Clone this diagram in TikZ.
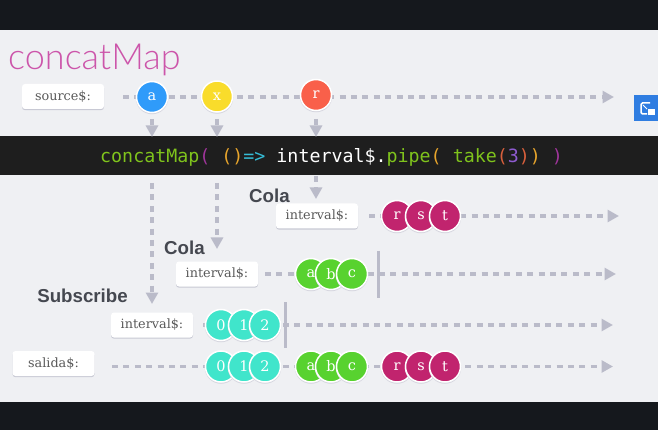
\documentclass[tikz,border=0pt]{standalone}
\usepackage{fontspec}
\setmainfont{Liberation Sans}
\newfontfamily\titlefont{Lato Light}
\newfontfamily\slabfont{DejaVu Serif}
\newfontfamily\codefont{DejaVu Sans Mono}
\usetikzlibrary{arrows.meta}
\definecolor{pagebg}{HTML}{EFF0F3}
\definecolor{darkbar}{HTML}{15181D}
\definecolor{codebg}{HTML}{1E1E1E}
\definecolor{flowc}{HTML}{BABBC9}
\definecolor{cgreen}{HTML}{7FC31C}
\definecolor{cpurple}{HTML}{A0359B}
\definecolor{corange}{HTML}{E8A52C}
\definecolor{ccyan}{HTML}{35BCD6}
\definecolor{cred}{HTML}{D9603C}
\definecolor{cviolet}{HTML}{8E5BD0}
\definecolor{titlec}{HTML}{CC55AA}
\definecolor{headc}{HTML}{454850}
\definecolor{xazure}{HTML}{2F9BFA}
\definecolor{xyellow}{HTML}{F9DC2B}
\definecolor{xred}{HTML}{F9604A}
\definecolor{xpink}{HTML}{C1246E}
\definecolor{xgreen}{HTML}{58D22F}
\definecolor{xteal}{HTML}{40E5CB}
\definecolor{xblue}{HTML}{2F7DE1}
\tikzset{
  flow/.style={draw=flowc,line width=3.6pt,dash pattern=on 6pt off 5.4pt},
  flowarrow/.style={flow,-{Triangle[length=11.5pt,width=12pt]}},
  label box/.style={rectangle,rounded corners=3pt,fill=white,minimum width=82pt,minimum height=25pt,
    inner sep=0pt,outer sep=0pt,text=black!65,font=\slabfont\fontsize{12.8}{14}\selectfont,
    preaction={fill=flowc!80,transform canvas={yshift=-1.2pt}}},
  marble/.style={circle,draw=white,line width=1.5pt,fill=#1,minimum size=31pt,inner sep=0pt,outer sep=0pt,
    text=white,font=\slabfont\fontsize{14.5}{16}\selectfont,
    preaction={fill=flowc!80,draw=flowc!60,transform canvas={yshift=-1pt}}},
  heading/.style={text=headc,font=\bfseries\fontsize{18.7}{21}\selectfont,inner sep=0pt},
  endbar/.style={draw=flowc,line width=3pt},
}
\begin{document}
\begin{tikzpicture}[x=1pt,y=-1pt]
\useasboundingbox (0,0) rectangle (658,430);
\fill[pagebg] (0,0) rectangle (658,430);
\fill[darkbar] (0,0) rectangle (658,30);
\fill[darkbar] (0,402) rectangle (658,430);
\node[anchor=base west,inner sep=0pt,text=titlec,font=\titlefont\fontsize{36}{40}\selectfont] (title) at (8,70) {concatMap};
% code band
\node[rectangle,fill=codebg,minimum width=658pt,minimum height=39.5pt,inner sep=0pt,outer sep=0pt,anchor=north west] (band) at (0,136) {};
\node[anchor=base west,inner sep=0pt,font=\codefont\fontsize{18.3}{20}\selectfont,text=white] (code) at (100,162.5) {\textcolor{cgreen}{concatMap}\textcolor{cpurple}{(}\ \textcolor{corange}{()}\textcolor{ccyan}{=>}\ interval\$.\textcolor{cgreen}{pipe}\textcolor{corange}{(}\ \textcolor{cgreen}{take}\textcolor{cred}{(}\textcolor{cviolet}{3}\textcolor{cred}{)}\textcolor{corange}{)}\ \textcolor{cpurple}{)}};
% end coordinates and labels
\node[label box] (source) at (63,96.5) {source\$:};
\node[label box] (int1) at (317,216) {interval\$:};
\node[label box] (int2) at (217,274) {interval\$:};
\node[label box] (int3) at (152,325) {interval\$:};
\node[label box] (salida) at (53.5,363.5) {salida\$:};
\coordinate (s0) at (123,97);   \coordinate (s1) at (614,97);
\coordinate (r1a) at (369,216); \coordinate (r1b) at (619,216);
\coordinate (r2a) at (265,274); \coordinate (r2b) at (616,274);
\coordinate (r3a) at (203,325); \coordinate (r3b) at (613,325);
\coordinate (r4a) at (112,366.5); \coordinate (r4b) at (613,366.5);
\coordinate (da0) at (152,183); \coordinate (da1) at (152,304);
\coordinate (dx0) at (217,183); \coordinate (dx1) at (217,249);
\coordinate (dr0) at (316,176); \coordinate (dr1) at (316,199);
\coordinate (ua0) at (152,119); \coordinate (ua1) at (152,137);
\coordinate (ux0) at (217,119); \coordinate (ux1) at (217,137);
\coordinate (ur0) at (316,119); \coordinate (ur1) at (316,137);
\draw[flowarrow] (s0) -- (s1);
\draw[flowarrow] (r1a) -- (r1b);
\draw[flowarrow] (r2a) -- (r2b);
\draw[flowarrow] (r3a) -- (r3b);
\draw[flowarrow] (r4a) -- (r4b);
\draw[flowarrow] (ua0) -- (ua1);
\draw[flowarrow] (ux0) -- (ux1);
\draw[flowarrow] (ur0) -- (ur1);
\draw[flowarrow] (da0) -- (da1);
\draw[flowarrow] (dx0) -- (dx1);
\draw[flowarrow] (dr0) -- (dr1);
% end bars
\coordinate (b2t) at (378,251); \coordinate (b2b) at (378,298);
\coordinate (b3t) at (285,302); \coordinate (b3b) at (285,348);
\draw[endbar] (b2t) -- (b2b);
\draw[endbar] (b3t) -- (b3b);
% headings
\node[heading] (cola1) at (269.5,196) {Cola};
\node[heading] (cola2) at (184.5,248) {Cola};
\node[heading] (sub) at (82.5,296) {Subscribe};
% source marbles
\node[marble=xazure] (ma) at (152,97) {a};
\node[marble=xyellow] (mx) at (217,96.5) {x};
\node[marble=xred] (mr) at (316,95) {r};
% row 1
\node[marble=xpink] (r1r) at (397,216) {r};
\node[marble=xpink] (r1s) at (421,216) {s};
\node[marble=xpink] (r1t) at (445,216) {t};
% row 2
\node[marble=xgreen] (r2a1) at (311,274) {a};
\node[marble=xgreen] (r2b1) at (331,274) {b};
\node[marble=xgreen] (r2c1) at (352,274) {c};
% row 3
\node[marble=xteal] (r30) at (221,325) {0};
\node[marble=xteal] (r31) at (244,325) {1};
\node[marble=xteal] (r32) at (265,325) {2};
% output row
\node[marble=xteal] (o0) at (221,366.5) {0};
\node[marble=xteal] (o1) at (244,366.5) {1};
\node[marble=xteal] (o2) at (265,366.5) {2};
\node[marble=xgreen] (oa) at (311,366.5) {a};
\node[marble=xgreen] (ob) at (331,366.5) {b};
\node[marble=xgreen] (oc) at (352,366.5) {c};
\node[marble=xpink] (or) at (397,366.5) {r};
\node[marble=xpink] (os) at (421,366.5) {s};
\node[marble=xpink] (ot) at (445,366.5) {t};
% picture-in-picture icon
\fill[xblue] (634,95) rectangle (658,121);
\draw[white,line width=1.5pt,rounded corners=1.5pt] (650,103) -- (641,103) -- (641,114) -- (647,114);
\fill[white] (648,109) rectangle (655,115);
\draw[white,line width=1pt] (643,105) -- (647,109);
\end{tikzpicture}
\end{document}
